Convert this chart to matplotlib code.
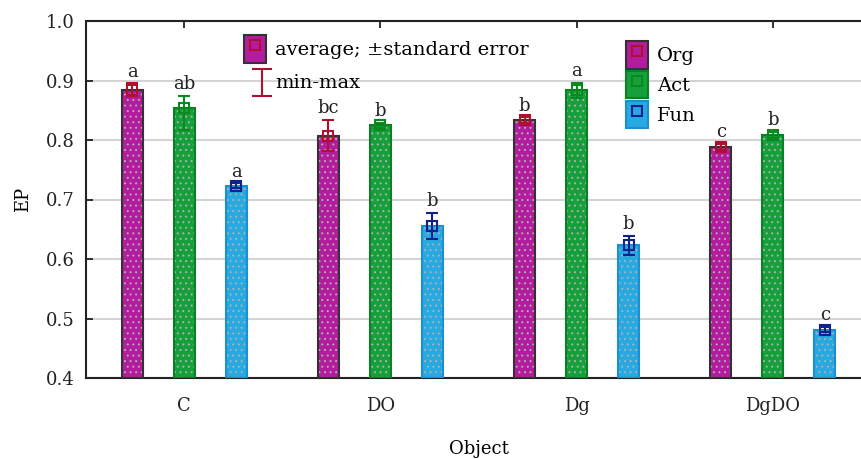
import matplotlib
matplotlib.use("Agg")
import matplotlib.pyplot as plt
import numpy as np
from matplotlib.patches import Patch
from matplotlib.lines import Line2D
from matplotlib.path import Path
from matplotlib.legend_handler import HandlerTuple

categories = ["C", "DO", "Dg", "DgDO"]
series = ["Org", "Act", "Fun"]
means = {
    "Org": [0.884, 0.807, 0.833, 0.788],
    "Act": [0.854, 0.825, 0.884, 0.808],
    "Fun": [0.723, 0.655, 0.623, 0.481],
}
mins = {
    "Org": [0.874, 0.782, 0.828, 0.783],
    "Act": [0.816, 0.821, 0.871, 0.804],
    "Fun": [0.719, 0.634, 0.607, 0.477],
}
maxs = {
    "Org": [0.895, 0.834, 0.838, 0.793],
    "Act": [0.874, 0.829, 0.896, 0.813],
    "Fun": [0.727, 0.677, 0.639, 0.486],
}
letters = {
    "Org": ["a", "bc", "b", "c"],
    "Act": ["ab", "b", "a", "b"],
    "Fun": ["a", "b", "b", "c"],
}

fills = {"Org": "#B41C9F", "Act": "#16A03C", "Fun": "#27A9E1"}
edges = {"Org": "#333333", "Act": "#0B8024", "Fun": "#1C8FD2"}
mcols = {"Org": "#B01030", "Act": "#0A8A1E", "Fun": "#10208E"}

plt.rcParams["font.family"] = ["DejaVu Serif"]
plt.rcParams["hatch.linewidth"] = 0.7

FS = 13
LFS = 14

fig = plt.figure(figsize=(8.61, 4.59), dpi=100)
ax = fig.add_axes([86/861, 1-378/459, 785/861, 357/459])

x = np.arange(len(categories))
offs = [-0.265, 0.0, 0.265]
w = 0.107

for s, o in zip(series, offs):
    xs = x + o
    m = np.array(means[s])
    ax.bar(xs, m - 0.4, bottom=0.4, width=w, color=fills[s], edgecolor="#b0b0b0",
           hatch="...", linewidth=0, zorder=2)
    ax.bar(xs, m - 0.4, bottom=0.4, width=w, fill=False, edgecolor=edges[s],
           linewidth=1.5, zorder=3)
    lo = m - np.array(mins[s])
    hi = np.array(maxs[s]) - m
    ax.errorbar(xs, m, yerr=[lo, hi], fmt="s", ms=7.5, mfc="none", mec=mcols[s],
                mew=1.5, ecolor=mcols[s], elinewidth=1.5, capsize=4, capthick=1.5,
                zorder=4)
    for xi, top, lab in zip(xs, maxs[s], letters[s]):
        ax.annotate(lab, (xi, top), xytext=(0, 2), textcoords="offset points",
                    ha="center", va="bottom", fontsize=FS, color="#222222", zorder=5)

ax.set_xlim(-0.5, 3.5)
ax.set_ylim(0.4, 1.0)
ax.set_yticks([0.4, 0.5, 0.6, 0.7, 0.8, 0.9, 1.0])
ax.set_yticklabels(["0.4", "0.5", "0.6", "0.7", "0.8", "0.9", "1.0"])
ax.set_xticks(x)
ax.set_xticklabels(categories)
ax.yaxis.grid(True, color="#d4d4d4", linewidth=1.5, zorder=0)
ax.set_axisbelow(True)
ax.tick_params(axis="both", direction="in", labelsize=FS, colors="#222222", width=1.3, length=5)
ax.tick_params(axis="x", top=True, pad=14)
ax.tick_params(axis="y", pad=8)
for sp in ax.spines.values():
    sp.set_linewidth(1.5)
    sp.set_color("#222222")
ax.set_ylabel("EP", fontsize=FS, labelpad=10)
ax.set_xlabel("Object", fontsize=FS, labelpad=18)

# legend 1
ibeam = Path([(-0.2, 0.65), (1.24, 0.65), (0.52, 0.65), (0.52, -1.35), (-0.2, -1.35), (1.24, -1.35)],
             [Path.MOVETO, Path.LINETO, Path.MOVETO, Path.LINETO, Path.MOVETO, Path.LINETO])
h_avg = (Patch(facecolor=fills["Org"], edgecolor="#333333", linewidth=1.5),
         Line2D([], [], marker="s", ls="none", ms=7.5, mfc="none", mec=mcols["Org"], mew=1.5))
h_mm = Line2D([], [], marker=ibeam, ls="none", ms=26, color=mcols["Org"], mew=1.5)
hm = {tuple: HandlerTuple(ndivide=1)}
leg1 = fig.legend([h_avg, h_mm], ["average; \u00b1standard error", "min-max"],
                  handler_map=hm,
                  loc="upper left", bbox_to_anchor=(244/861, 1-35/459), frameon=False,
                  fontsize=LFS, handlelength=1.15, handleheight=1.8, handletextpad=0.45,
                  labelspacing=0.3, borderaxespad=0, borderpad=0)

hs = []
for s in series:
    hs.append((Patch(facecolor=fills[s], edgecolor=edges[s], linewidth=1.5),
               Line2D([], [], marker="s", ls="none", ms=7.5, mfc="none", mec=mcols[s], mew=1.5)))
leg2 = fig.legend(hs, series, handler_map=hm,
                  loc="upper left", bbox_to_anchor=(626/861, 1-41/459), frameon=False,
                  fontsize=LFS, handlelength=1.15, handleheight=1.8, handletextpad=0.45,
                  labelspacing=0.12, borderaxespad=0, borderpad=0)

fig.savefig("out.png", dpi=100)
